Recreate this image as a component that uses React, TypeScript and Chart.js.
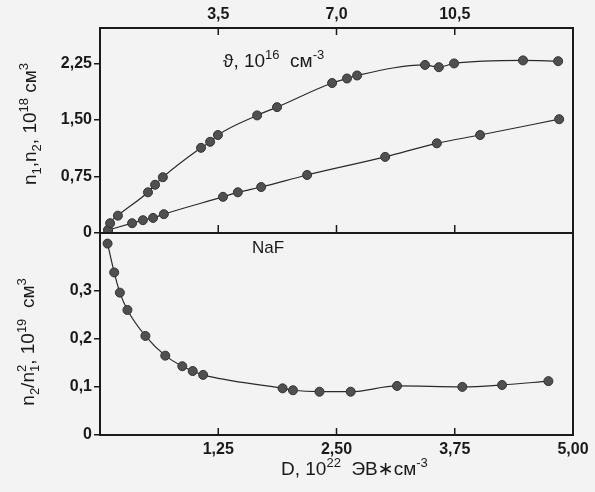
import { useEffect, useRef } from 'react';
import { Chart, registerables } from 'chart.js';

Chart.register(...registerables);

// ---- data ----
// upper panel: n1 and n2 (10^18 cm^-3) versus theta (10^16 cm^-3)
const thetaN1 = [0.24, 0.30, 0.53, 1.42, 1.63, 1.86, 2.99, 3.26, 3.49, 4.65, 5.24, 6.87, 7.31, 7.61, 9.62, 10.03, 10.48, 12.52, 13.56];
const valuesN1 = [0.04, 0.13, 0.23, 0.54, 0.64, 0.74, 1.13, 1.21, 1.30, 1.56, 1.67, 1.99, 2.05, 2.09, 2.23, 2.20, 2.25, 2.29, 2.28];
const thetaN2 = [0.24, 0.95, 1.27, 1.57, 1.89, 3.64, 4.08, 4.77, 6.13, 8.44, 9.97, 11.25, 13.59];
const valuesN2 = [0.04, 0.13, 0.17, 0.20, 0.25, 0.48, 0.54, 0.61, 0.77, 1.01, 1.19, 1.30, 1.51];
// lower panel: n2/n1^2 (10^19 cm^3) versus D (10^22 eV*cm^-3)
const doseD = [0.08, 0.15, 0.21, 0.29, 0.48, 0.69, 0.87, 0.98, 1.09, 1.93, 2.04, 2.32, 2.65, 3.14, 3.83, 4.25, 4.74];
const ratioValues = [0.398, 0.338, 0.296, 0.260, 0.206, 0.165, 0.143, 0.133, 0.125, 0.097, 0.093, 0.090, 0.090, 0.102, 0.100, 0.104, 0.112];

// axes
const thetaMin = 0, thetaMax = 14, thetaStep = 3.5;
const doseMin = 0, doseMax = 5, doseStep = 1.25;
const nMin = 0, nMax = 2.72, nStep = 0.75, nLastTick = 2.25;
const ratioMin = 0, ratioMax = 0.42, ratioStep = 0.1, ratioLastTick = 0.3;

const FONT = '"Liberation Sans", Arial, "DejaVu Sans", sans-serif';
const INK = '#1a1a1a';
const DOT = '#505050';
const BG = '#f3f3f3';

const comma = (v: number, d: number) => v.toFixed(d).replace('.', ',');

type Seg = { t: string; m?: 'sup' | 'sub'; sup?: string };

const titleN: Seg[] = [{ t: 'n' }, { t: '1', m: 'sub' }, { t: ',n' }, { t: '2', m: 'sub' }, { t: ', 10' }, { t: '18', m: 'sup' }, { t: ' см' }, { t: '3', m: 'sup' }];
const titleRatio: Seg[] = [{ t: 'n' }, { t: '2', m: 'sub' }, { t: '/n' }, { t: '1', m: 'sub', sup: '2' }, { t: ', 10' }, { t: '19', m: 'sup' }, { t: '  см' }, { t: '3', m: 'sup' }];
const titleTheta: Seg[] = [{ t: 'ϑ, 10' }, { t: '16', m: 'sup' }, { t: '  см' }, { t: '-3', m: 'sup' }];
const titleD: Seg[] = [{ t: 'D, 10' }, { t: '22', m: 'sup' }, { t: '  ЭВ∗см' }, { t: '-3', m: 'sup' }];
const labelNaF: Seg[] = [{ t: 'NaF' }];

function drawRich(ctx: CanvasRenderingContext2D, segs: Seg[], x: number, y: number, size: number, align: 'left' | 'center', weight = 'normal') {
  const small = Math.round(size * 0.68);
  const big = `${weight} ${size}px ${FONT}`;
  const sm = `${weight} ${small}px ${FONT}`;
  const widthOf = (s: Seg) => {
    if (!s.m) { ctx.font = big; return ctx.measureText(s.t).width; }
    ctx.font = sm;
    let w = ctx.measureText(s.t).width;
    if (s.sup) w = Math.max(w, ctx.measureText(s.sup).width);
    return w;
  };
  let total = 0;
  for (const s of segs) total += widthOf(s);
  let cx = align === 'center' ? x - total / 2 : x;
  ctx.textAlign = 'left';
  ctx.textBaseline = 'alphabetic';
  for (const s of segs) {
    const w = widthOf(s);
    if (!s.m) {
      ctx.font = big;
      ctx.fillText(s.t, cx, y);
    } else {
      ctx.font = sm;
      const dy = s.m === 'sup' ? -size * 0.42 : size * 0.25;
      ctx.fillText(s.t, cx, y + dy);
      if (s.sup) ctx.fillText(s.sup, cx, y - size * 0.42);
    }
    cx += w;
  }
}

const framePlugin = {
  id: 'framePlugin',
  beforeDraw(chart: any) {
    const { ctx, width, height } = chart;
    ctx.save();
    ctx.fillStyle = BG;
    ctx.fillRect(0, 0, width, height);
    ctx.restore();
  },
  afterDraw(chart: any) {
    const { ctx, chartArea } = chart;
    const { left, right, top, bottom } = chartArea;
    const xTop = chart.scales.xTop;
    const xBot = chart.scales.xBot;
    const yTop = chart.scales.yTop;
    const mid = yTop.bottom;
    ctx.save();
    ctx.strokeStyle = INK;
    ctx.lineWidth = 2;
    ctx.strokeRect(left, top, right - left, bottom - top);
    ctx.beginPath();
    ctx.moveTo(left, mid);
    ctx.lineTo(right, mid);
    ctx.stroke();
    // inner tick marks
    ctx.lineWidth = 1.5;
    ctx.beginPath();
    for (const t of xTop.ticks) {
      if (t.value <= thetaMin || t.value >= thetaMax) continue;
      const px = xTop.getPixelForValue(t.value);
      ctx.moveTo(px, top); ctx.lineTo(px, top + 7);
      ctx.moveTo(px, mid); ctx.lineTo(px, mid - 8);
    }
    for (const t of xBot.ticks) {
      if (t.value <= doseMin || t.value >= doseMax) continue;
      const px = xBot.getPixelForValue(t.value);
      ctx.moveTo(px, bottom); ctx.lineTo(px, bottom - 7);
    }
    ctx.stroke();
    // titles
    ctx.fillStyle = INK;
    drawRich(ctx, titleTheta, 223, 67, 19, 'left');
    drawRich(ctx, labelNaF, 252, 253, 17, 'left');
    drawRich(ctx, titleD, 281, 475, 19, 'left');
    ctx.save();
    ctx.translate(36, 124);
    ctx.rotate(-Math.PI / 2);
    drawRich(ctx, titleN, 0, 0, 19, 'center');
    ctx.restore();
    ctx.save();
    ctx.translate(34, 342);
    ctx.rotate(-Math.PI / 2);
    drawRich(ctx, titleRatio, 0, 0, 19, 'center');
    ctx.restore();
    ctx.restore();
  },
};

const tickFont = { family: FONT, size: 16, weight: 'bold' as const };

export default function App() {
  const ref = useRef<HTMLCanvasElement | null>(null);
  useEffect(() => {
    if (!ref.current) return;
    const pts = (xs: number[], ys: number[]) => xs.map((x, i) => ({ x, y: ys[i] }));
    const lineStyle = {
      borderColor: '#2a2a2a',
      borderWidth: 1.2,
      backgroundColor: DOT,
      pointBackgroundColor: DOT,
      pointBorderColor: '#333',
      pointBorderWidth: 1,
      pointRadius: 4.5,
      cubicInterpolationMode: 'monotone' as const,
      fill: false,
    };
    const chart = new Chart(ref.current, {
      type: 'line',
      data: {
        datasets: [
          { label: 'n1', data: pts(thetaN1, valuesN1), xAxisID: 'xTop', yAxisID: 'yTop', ...lineStyle },
          { label: 'n2', data: pts(thetaN2, valuesN2), xAxisID: 'xTop', yAxisID: 'yTop', ...lineStyle },
          { label: 'n2/n1^2', data: pts(doseD, ratioValues), xAxisID: 'xBot', yAxisID: 'yBot', ...lineStyle },
        ],
      },
      options: {
        animation: false,
        responsive: false,
        devicePixelRatio: 1,
        events: [],
        layout: { padding: { left: 0, right: 22, top: 0, bottom: 0 } },
        plugins: { legend: { display: false }, tooltip: { enabled: false } },
        scales: {
          xTop: {
            type: 'linear', position: 'top', min: thetaMin, max: thetaMax,
            ticks: { stepSize: thetaStep, font: tickFont, color: INK, padding: 4, maxRotation: 0, autoSkip: false,
              callback: (v: any) => (v > thetaMin && v < thetaMax ? comma(Number(v), 1) : '') },
            grid: { display: false, drawTicks: false },
            border: { display: false },
            afterFit: (s: any) => { s.height = 28; },
          },
          xBot: {
            type: 'linear', position: 'bottom', min: doseMin, max: doseMax,
            ticks: { stepSize: doseStep, font: tickFont, color: INK, padding: 5, maxRotation: 0, autoSkip: false,
              callback: (v: any) => (v > doseMin ? comma(Number(v), 2) : '') },
            grid: { display: false, drawTicks: false },
            border: { display: false },
            afterFit: (s: any) => { s.height = 57; },
          },
          yBot: {
            type: 'linear', position: 'left', stack: 'panels', stackWeight: 202,
            min: ratioMin, max: ratioMax,
            ticks: { stepSize: ratioStep, includeBounds: false, font: tickFont, color: INK, padding: 2,
              callback: (v: any) => (Number(v) === 0 ? '0' : comma(Number(v), 1)) },
            afterBuildTicks: (s: any) => { s.ticks = s.ticks.filter((t: any) => t.value <= ratioLastTick + 1e-9); },
            grid: { drawOnChartArea: false, drawTicks: true, tickLength: 6, color: INK, lineWidth: 1.5 },
            border: { display: false },
            afterFit: (s: any) => { s.width = 100; },
          },
          yTop: {
            type: 'linear', position: 'left', stack: 'panels', stackWeight: 205,
            min: nMin, max: nMax,
            ticks: { stepSize: nStep, includeBounds: false, font: tickFont, color: INK, padding: 2,
              callback: (v: any) => (Number(v) === 0 ? '0' : comma(Number(v), 2)) },
            afterBuildTicks: (s: any) => { s.ticks = s.ticks.filter((t: any) => t.value <= nLastTick + 1e-9); },
            grid: { drawOnChartArea: false, drawTicks: true, tickLength: 6, color: INK, lineWidth: 1.5 },
            border: { display: false },
            afterFit: (s: any) => { s.width = 100; },
          },
        },
      } as any,
      plugins: [framePlugin],
    });
    return () => chart.destroy();
  }, []);
  return (
    <div style={{ position: 'fixed', left: 0, top: 0, width: 595, height: 492, background: BG }}>
      <canvas ref={ref} width={595} height={492} style={{ display: 'block' }} />
    </div>
  );
}
